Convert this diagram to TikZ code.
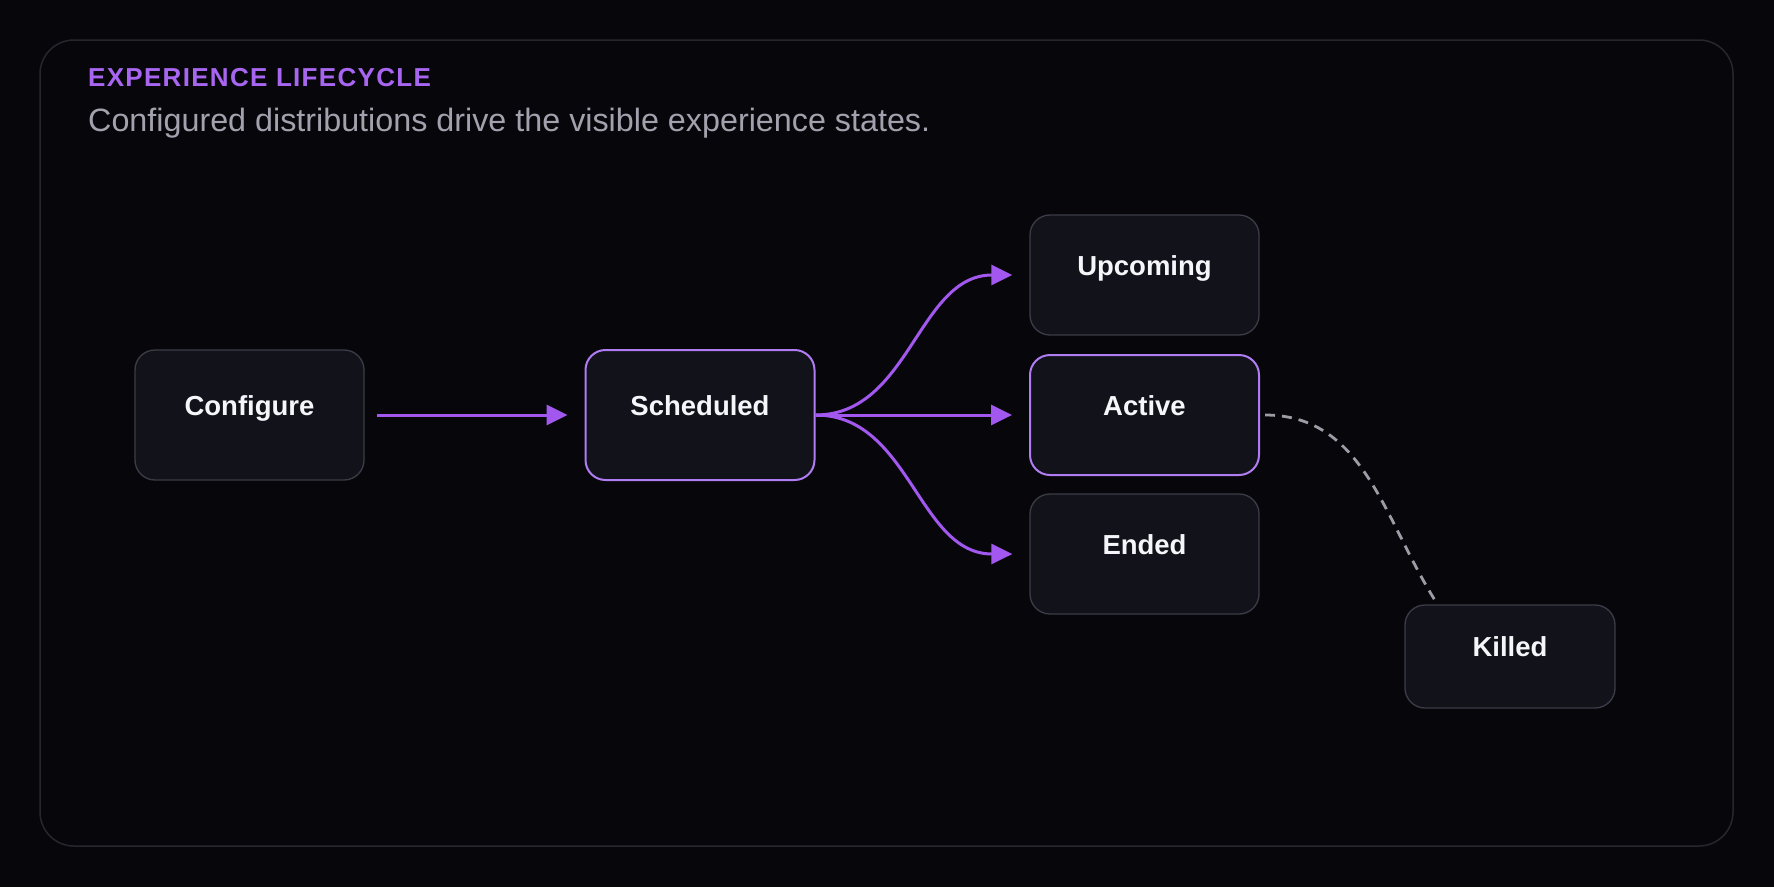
\documentclass[tikz,border=0pt]{standalone}
\usepackage{fontspec}
\setmainfont{Liberation Sans}
\usetikzlibrary{arrows.meta}
\definecolor{pagebg}{HTML}{07070B}
\definecolor{framegrey}{HTML}{26262D}
\definecolor{nodefill}{HTML}{12121B}
\definecolor{nodeline}{HTML}{3C3C47}
\definecolor{hilite}{HTML}{B07CF2}
\definecolor{flowpurple}{HTML}{A258EE}
\definecolor{titlepurple}{HTML}{A866F0}
\definecolor{subgrey}{HTML}{A3A1AD}
\definecolor{nodetext}{HTML}{F5F5FA}
\definecolor{killgrey}{HTML}{9D9CA6}
\begin{document}
\begin{tikzpicture}[x=1pt,y=-1pt,
    state/.style={draw=nodeline,fill=nodefill,line width=1.3pt,rounded corners=20pt,
      minimum width=229pt,minimum height=120pt,text=nodetext,
      font=\fontsize{27.5}{30}\selectfont\bfseries,text height=18pt,text depth=18pt},
    current/.style={state,draw=hilite,line width=2pt},
    flow/.style={draw=flowpurple,line width=3pt,-{Triangle[length=21pt,width=20pt]}},
    killline/.style={draw=killgrey,line width=2.8pt,dash pattern=on 10pt off 7pt}]
    \fill[pagebg] (0,0) rectangle (1774,887);
    \useasboundingbox (0,0) rectangle (1774,887);
    \draw[framegrey,line width=1.5pt,rounded corners=34pt] (40,40) rectangle (1733,846);
    % heading
    \node[anchor=base west,inner sep=0,text=titlepurple,
      font=\fontsize{26}{30}\selectfont\bfseries\addfontfeatures{LetterSpace=5}] (title) at (88,86) {EXPERIENCE LIFECYCLE};
    \node[anchor=base west,inner sep=0,text=subgrey,font=\fontsize{32.3}{36}\selectfont] (sub) at (88,131)
      {Configured distributions drive the visible experience states.};
    % states
    \node[state,minimum height=130pt] (conf) at (249.5,415) {Configure};
    \node[current,minimum height=130pt] (sched) at (700,415) {Scheduled};
    \node[state] (up) at (1144.5,275) {Upcoming};
    \node[current] (act) at (1144.5,415) {Active};
    \node[state] (ended) at (1144.5,554) {Ended};
    \node[state,minimum width=210pt,minimum height=103pt] (kill) at (1510,656.5) {Killed};
    % transitions
    \draw[flow] ([xshift=12pt]conf.east) -- ([xshift=-17pt]sched.west);
    \draw[flow] (sched.east) to[out=0,in=180] ([xshift=-17pt]up.west);
    \draw[flow] (sched.east) -- ([xshift=-17pt]act.west);
    \draw[flow] (sched.east) to[out=0,in=180] ([xshift=-17pt]ended.west);
    \draw[killline] ([xshift=5pt]act.east) to[out=0,in=122] ([xshift=-75pt,yshift=4pt]kill.north);
\end{tikzpicture}
\end{document}
